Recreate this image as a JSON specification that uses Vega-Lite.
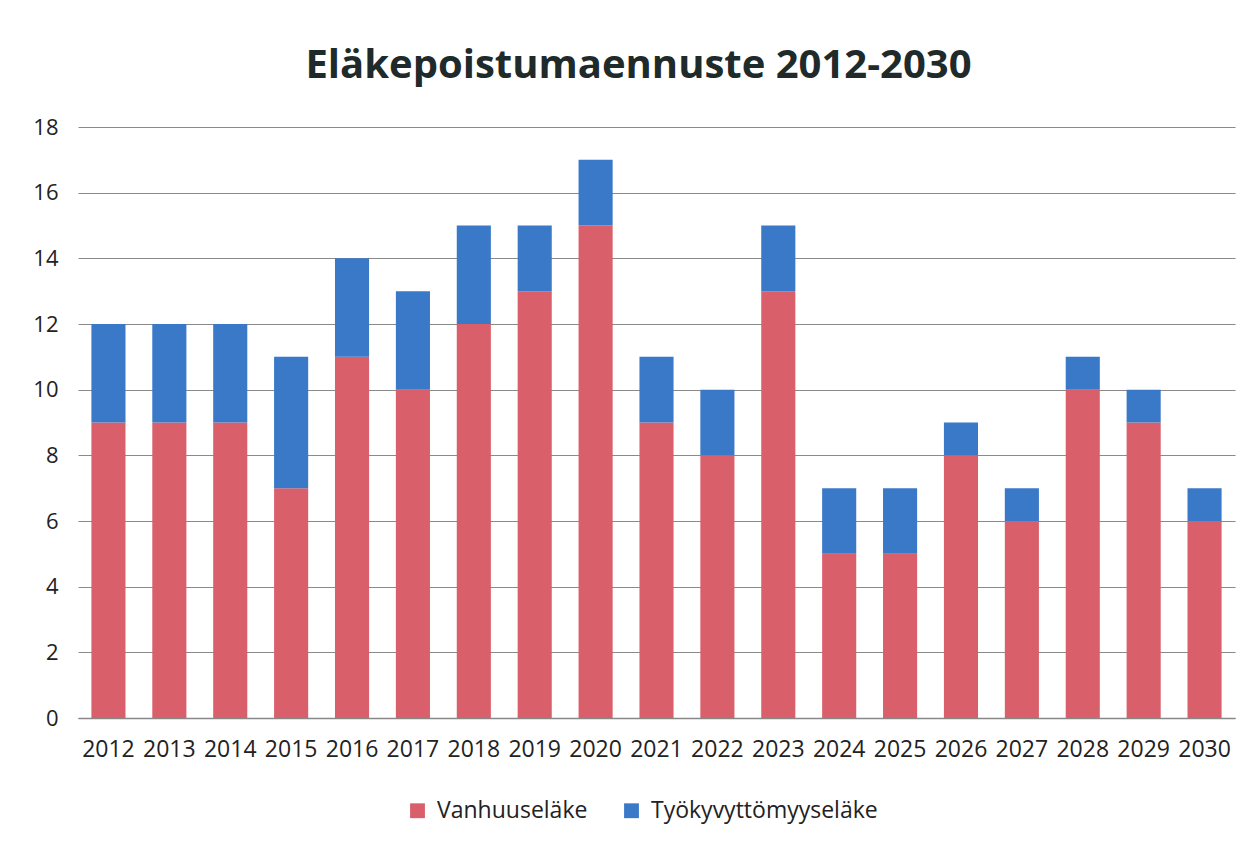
{
  "$schema": "https://vega.github.io/schema/vega-lite/v6.json",
  "autosize": {"type": "none"},
  "width": 1157,
  "height": 591,
  "padding": {"left": 78, "top": 127, "right": 18, "bottom": 124},
  "background": "white",
  "title": {
    "text": "Eläkepoistumaennuste 2012-2030",
    "font": "Open Sans",
    "fontSize": 40,
    "fontWeight": "bold",
    "color": "#1f2a2a",
    "anchor": "middle",
    "offset": 30,
    "dx": -18
  },
  "data": {
    "values": [
      {"vuosi": "2012", "laji": "Vanhuuseläke", "o": 1, "arvo": 9},
      {"vuosi": "2012", "laji": "Työkyvyttömyyseläke", "o": 2, "arvo": 3},
      {"vuosi": "2013", "laji": "Vanhuuseläke", "o": 1, "arvo": 9},
      {"vuosi": "2013", "laji": "Työkyvyttömyyseläke", "o": 2, "arvo": 3},
      {"vuosi": "2014", "laji": "Vanhuuseläke", "o": 1, "arvo": 9},
      {"vuosi": "2014", "laji": "Työkyvyttömyyseläke", "o": 2, "arvo": 3},
      {"vuosi": "2015", "laji": "Vanhuuseläke", "o": 1, "arvo": 7},
      {"vuosi": "2015", "laji": "Työkyvyttömyyseläke", "o": 2, "arvo": 4},
      {"vuosi": "2016", "laji": "Vanhuuseläke", "o": 1, "arvo": 11},
      {"vuosi": "2016", "laji": "Työkyvyttömyyseläke", "o": 2, "arvo": 3},
      {"vuosi": "2017", "laji": "Vanhuuseläke", "o": 1, "arvo": 10},
      {"vuosi": "2017", "laji": "Työkyvyttömyyseläke", "o": 2, "arvo": 3},
      {"vuosi": "2018", "laji": "Vanhuuseläke", "o": 1, "arvo": 12},
      {"vuosi": "2018", "laji": "Työkyvyttömyyseläke", "o": 2, "arvo": 3},
      {"vuosi": "2019", "laji": "Vanhuuseläke", "o": 1, "arvo": 13},
      {"vuosi": "2019", "laji": "Työkyvyttömyyseläke", "o": 2, "arvo": 2},
      {"vuosi": "2020", "laji": "Vanhuuseläke", "o": 1, "arvo": 15},
      {"vuosi": "2020", "laji": "Työkyvyttömyyseläke", "o": 2, "arvo": 2},
      {"vuosi": "2021", "laji": "Vanhuuseläke", "o": 1, "arvo": 9},
      {"vuosi": "2021", "laji": "Työkyvyttömyyseläke", "o": 2, "arvo": 2},
      {"vuosi": "2022", "laji": "Vanhuuseläke", "o": 1, "arvo": 8},
      {"vuosi": "2022", "laji": "Työkyvyttömyyseläke", "o": 2, "arvo": 2},
      {"vuosi": "2023", "laji": "Vanhuuseläke", "o": 1, "arvo": 13},
      {"vuosi": "2023", "laji": "Työkyvyttömyyseläke", "o": 2, "arvo": 2},
      {"vuosi": "2024", "laji": "Vanhuuseläke", "o": 1, "arvo": 5},
      {"vuosi": "2024", "laji": "Työkyvyttömyyseläke", "o": 2, "arvo": 2},
      {"vuosi": "2025", "laji": "Vanhuuseläke", "o": 1, "arvo": 5},
      {"vuosi": "2025", "laji": "Työkyvyttömyyseläke", "o": 2, "arvo": 2},
      {"vuosi": "2026", "laji": "Vanhuuseläke", "o": 1, "arvo": 8},
      {"vuosi": "2026", "laji": "Työkyvyttömyyseläke", "o": 2, "arvo": 1},
      {"vuosi": "2027", "laji": "Vanhuuseläke", "o": 1, "arvo": 6},
      {"vuosi": "2027", "laji": "Työkyvyttömyyseläke", "o": 2, "arvo": 1},
      {"vuosi": "2028", "laji": "Vanhuuseläke", "o": 1, "arvo": 10},
      {"vuosi": "2028", "laji": "Työkyvyttömyyseläke", "o": 2, "arvo": 1},
      {"vuosi": "2029", "laji": "Vanhuuseläke", "o": 1, "arvo": 9},
      {"vuosi": "2029", "laji": "Työkyvyttömyyseläke", "o": 2, "arvo": 1},
      {"vuosi": "2030", "laji": "Vanhuuseläke", "o": 1, "arvo": 6},
      {"vuosi": "2030", "laji": "Työkyvyttömyyseläke", "o": 2, "arvo": 1}
    ]
  },
  "mark": {"type": "bar"},
  "encoding": {
    "x": {
      "field": "vuosi",
      "type": "ordinal",
      "title": null,
      "scale": {"paddingInner": 0.44, "paddingOuter": 0.22},
      "axis": {
        "labelAngle": 0,
        "labelFont": "Open Sans",
        "labelFontSize": 23,
        "labelColor": "#222",
        "labelPadding": 20,
        "ticks": false,
        "domainColor": "#888",
        "domainWidth": 1.5
      }
    },
    "y": {
      "field": "arvo",
      "type": "quantitative",
      "aggregate": "sum",
      "stack": "zero",
      "title": null,
      "scale": {"domain": [0, 18]},
      "axis": {
        "values": [0, 2, 4, 6, 8, 10, 12, 14, 16, 18],
        "labelFont": "Open Sans",
        "labelFontSize": 22,
        "labelColor": "#222",
        "labelPadding": 20,
        "ticks": false,
        "domain": false,
        "gridColor": "#8a8a8a",
        "gridWidth": 1.2
      }
    },
    "color": {
      "field": "laji",
      "type": "nominal",
      "scale": {
        "domain": ["Vanhuuseläke", "Työkyvyttömyyseläke"],
        "range": ["#d9606a", "#3a78c8"]
      },
      "legend": {
        "title": null,
        "orient": "none",
        "direction": "horizontal",
        "legendX": 328,
        "legendY": 672,
        "symbolType": "square",
        "symbolSize": 220,
        "symbolOpacity": 1,
        "labelFont": "Open Sans",
        "labelFontSize": 23,
        "labelColor": "#222",
        "labelLimit": 500,
        "columnPadding": 32,
        "labelOffset": 8
      }
    },
    "order": {"field": "o", "type": "quantitative"}
  },
  "config": {"view": {"stroke": null}}
}
